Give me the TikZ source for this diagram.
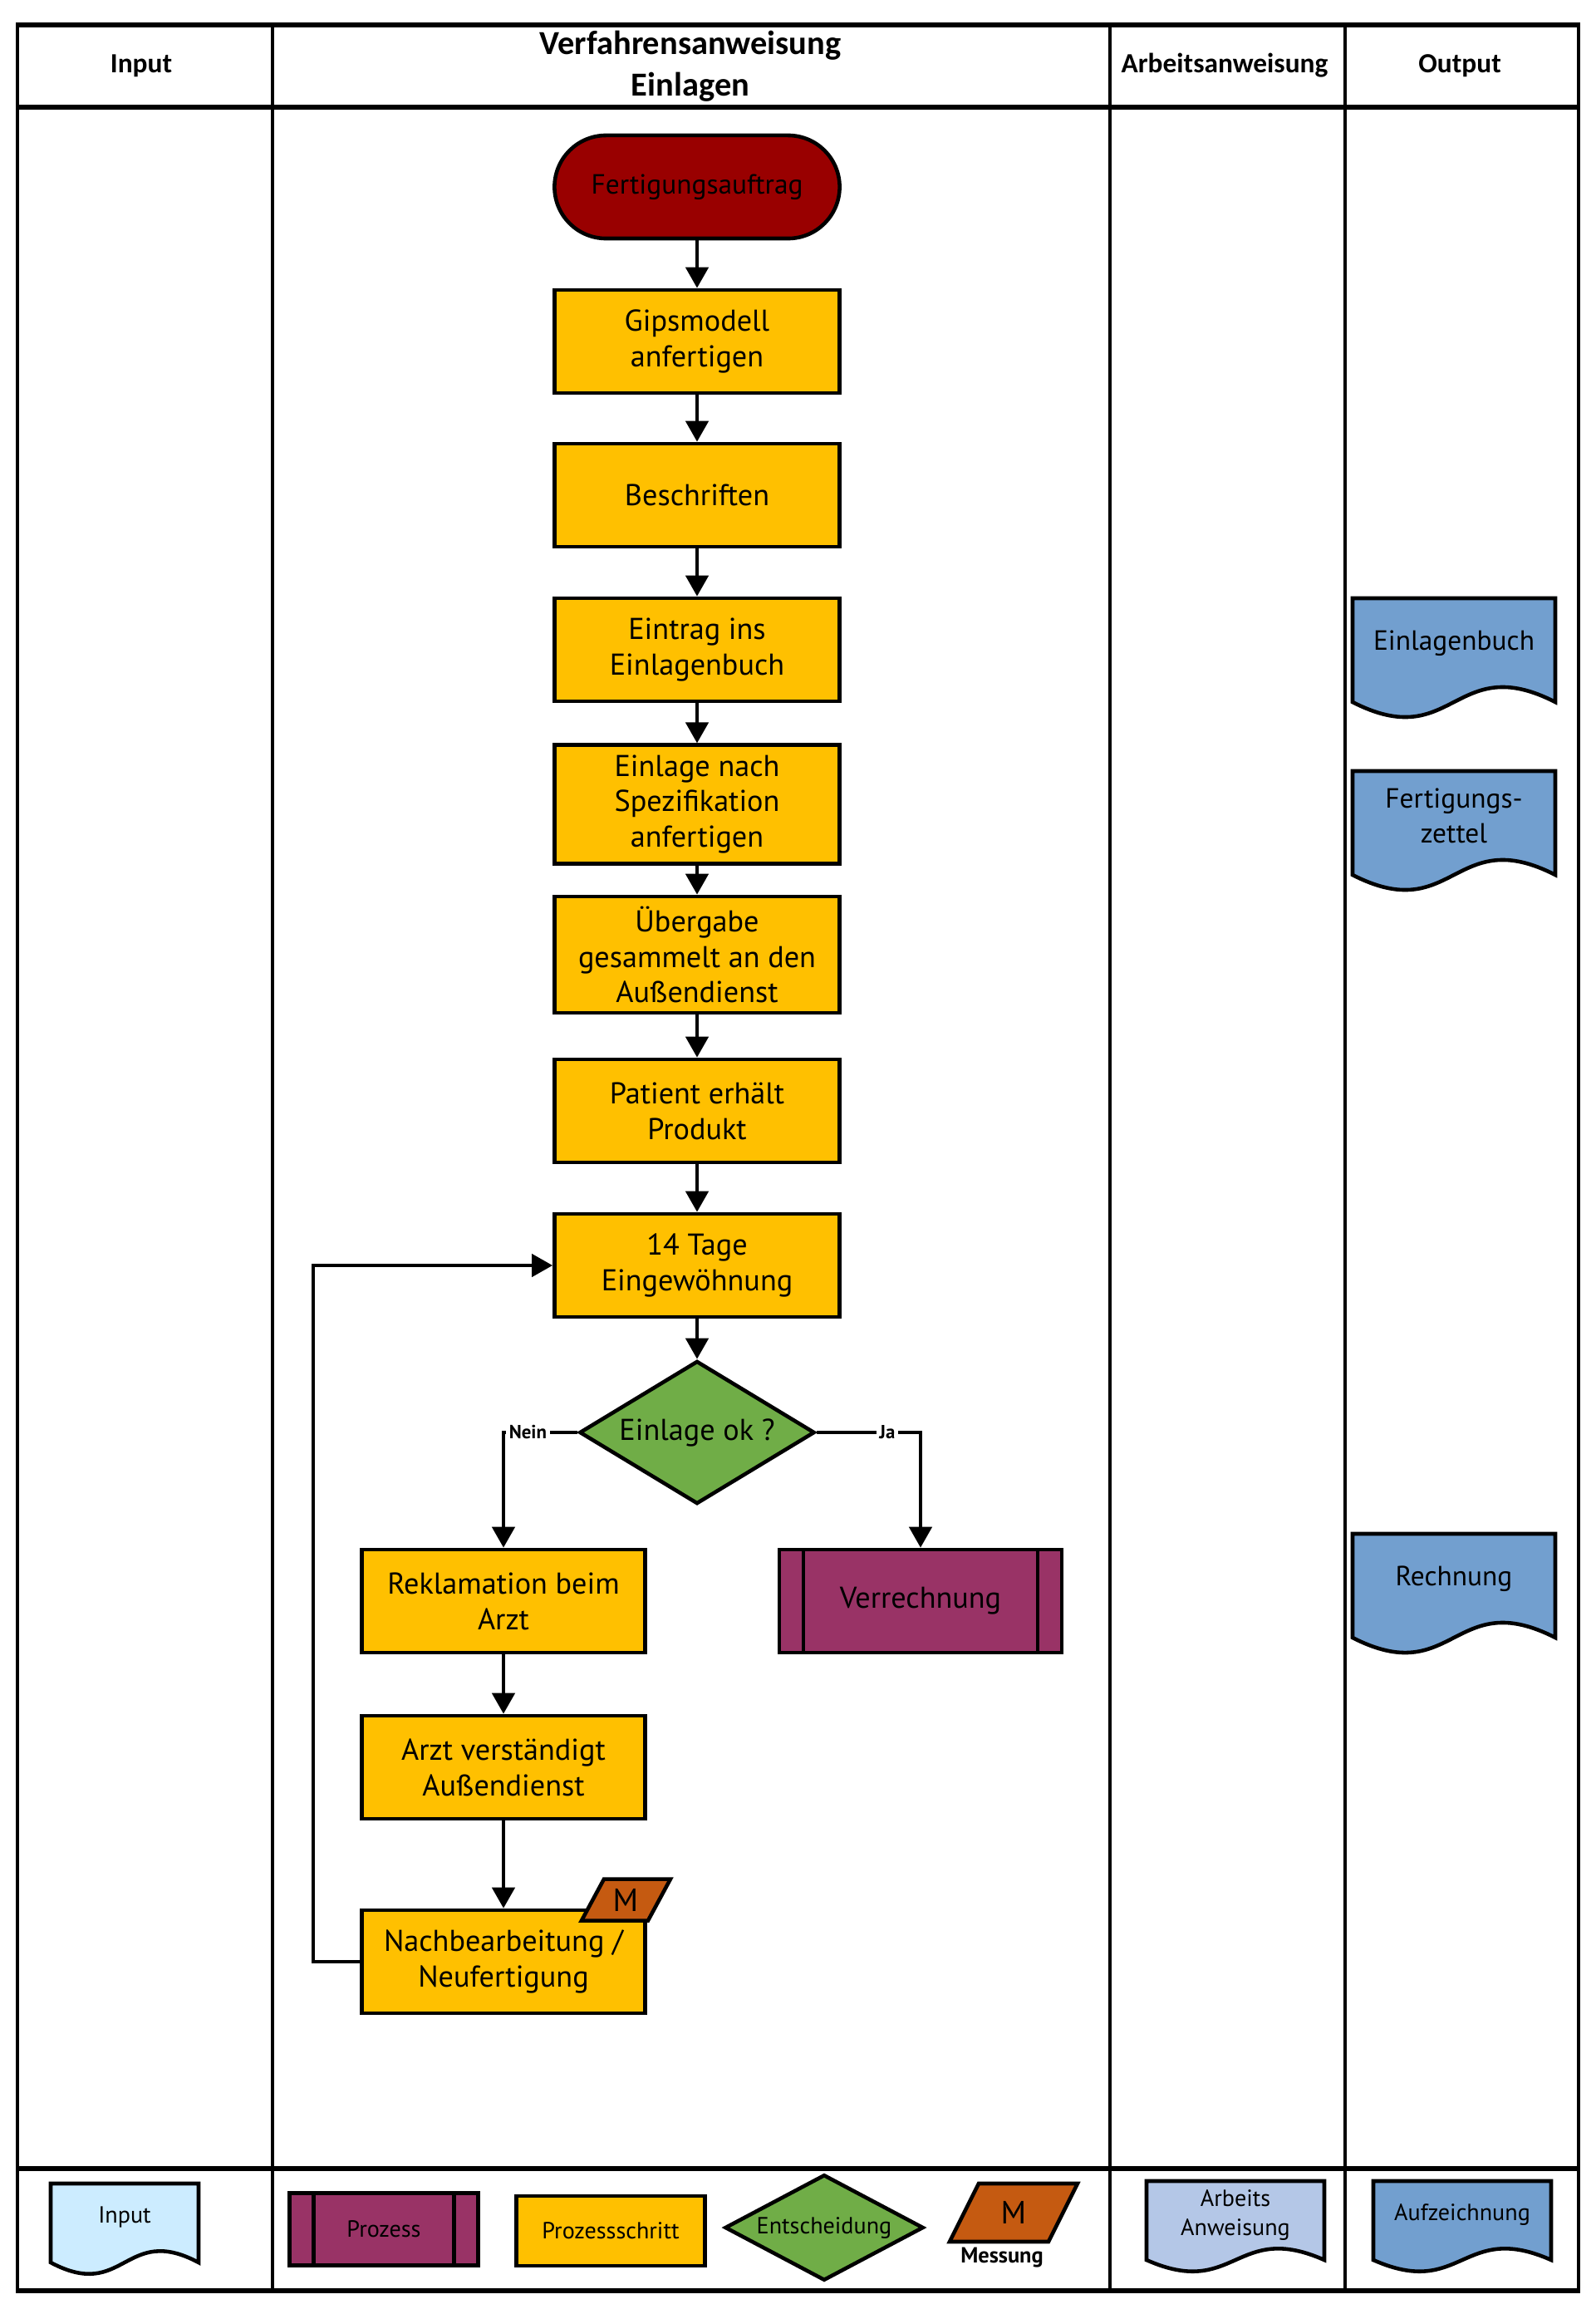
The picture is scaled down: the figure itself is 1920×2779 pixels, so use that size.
\documentclass[tikz,border=0pt]{standalone}
\usepackage{fontspec}
\setmainfont{PT Sans}
\newfontfamily\headfont{Carlito}
\usetikzlibrary{arrows.meta,shapes.geometric,positioning}

\definecolor{startrot}{RGB}{153,0,0}
\definecolor{schrittgelb}{RGB}{255,192,0}
\definecolor{entschgruen}{RGB}{112,173,71}
\definecolor{prozesslila}{RGB}{153,51,102}
\definecolor{messorange}{RGB}{197,90,17}
\definecolor{aufzblau}{RGB}{114,159,207}
\definecolor{anwblau}{RGB}{180,199,231}
\definecolor{inputblau}{RGB}{204,236,255}

\newcommand{\fsz}[2]{\fontsize{#1}{#2}\selectfont}
% Dokument: Name, x links, y oben, Breite, Hoehe, Farbe, Text, Schrift
\newcommand{\dokument}[8]{%
  \draw[doklinie, fill=#6] (#2,#3) -- ({#2+#4},#3) -- ({#2+#4},{#3+#5})
    .. controls ({#2+0.5*#4},{#3+0.5*#5}) and ({#2+0.5*#4},{#3+1.5*#5}) .. (#2,{#3+#5}) -- cycle;
  \node[doktext, font=#8] (#1) at ({#2+0.5*#4},{#3+0.43*#5}) {#7};}

\begin{document}
\begin{tikzpicture}[x=0.01cm, y=-0.01cm,
		quer/.style={line width=1.85pt},
		senk/.style={line width=1.4pt},
		kopf/.style={font=\headfont\bfseries\fsz{9.5}{12}, align=center},
		start/.style={rectangle, rounded corners=0.62cm, draw, line width=1.3pt, fill=startrot, minimum width=3.43cm, minimum height=1.24cm, font=\fsz{9.5}{12}},
		schritt/.style={rectangle, draw, line width=1.3pt, fill=schrittgelb, minimum width=3.43cm, minimum height=1.24cm, align=center, font=\fsz{10.3}{12.2}},
		entsch/.style={diamond, draw, line width=1.3pt, fill=entschgruen, minimum width=2.83cm, minimum height=1.72cm, inner sep=0pt, aspect=1.6, font=\fsz{10.3}{12.2}},
		prozess/.style={rectangle, draw, line width=1.3pt, fill=prozesslila, minimum width=3.4cm, minimum height=1.24cm, font=\fsz{10.3}{12.2},
			path picture={\draw[line width=1.3pt] ([xshift=0.29cm]path picture bounding box.north west) -- ([xshift=0.29cm]path picture bounding box.south west)
				([xshift=-0.29cm]path picture bounding box.north east) -- ([xshift=-0.29cm]path picture bounding box.south east);}},
		mrand/.style={draw, line width=1.3pt, fill=messorange},
		doklinie/.style={draw, line width=1.3pt},
		doktext/.style={align=center, inner sep=1pt},
		jn/.style={fill=white, inner sep=1pt, font=\bfseries\fsz{6.5}{8}},
		leg/.style={font=\fsz{8}{10}},
		pfeil/.style={-{Triangle[length=0.25cm,width=0.27cm]}, line width=1.3pt}
		]
		
		\useasboundingbox (0,0) rectangle (1920,2779);
		
		% Rahmen
		\foreach \y in {30,129,2610,2757}
			\draw[quer] (19,\y) -- (1902,\y);
		\foreach \x in {21,328,1336,1619,1900}
			\draw[senk] (\x,30) -- (\x,2757);
		
		\node[kopf] (hinput) at (170,79) {Input};
		\node[kopf, font=\headfont\bfseries\fsz{11.5}{14.2}] (hverf) at (831,80) {Verfahrensanweisung\\Einlagen};
		\node[kopf] (harbeit) at (1474,79) {Arbeitsanweisung};
		\node[kopf] (houtput) at (1757,79) {Output};
		
		% Ablauf
		\node[start] (auftrag) at (839,225) {Fertigungsauftrag};
		\node[schritt] (gips) at (839,411) {Gipsmodell\\anfertigen};
		\node[schritt] (beschr) at (839,596) {Beschriften};
		\node[schritt] (eintrag) at (839,782) {Eintrag ins\\Einlagenbuch};
		\node[schritt] (spez) at (839,968) {Einlage nach\\Spezifikation\\anfertigen};
		\node[schritt, minimum height=1.31cm] (uebergabe) at (839,1149) {Übergabe\\gesammelt an den\\Außendienst};
		\node[schritt] (patient) at (839,1337) {Patient erhält\\Produkt};
		\node[schritt] (eingew) at (839,1523) {14 Tage\\Eingewöhnung};
		\node[entsch] (frage) at (839,1724) {Einlage ok ?};
		\node[schritt, minimum width=3.41cm] (rekl) at (606,1927) {Reklamation beim\\Arzt};
		\node[prozess] (verr) at (1108,1927) {Verrechnung};
		\node[schritt, minimum width=3.41cm] (arzt) at (606,2127) {Arzt verständigt\\Außendienst};
		\node[schritt, minimum width=3.41cm] (nach) at (606,2361) {Nachbearbeitung /\\Neufertigung};
		
		\coordinate (mpos) at ([shift={(-26,-10)}]nach.north east);
		\draw[mrand] ([shift={(-53,25)}]mpos) -- ++(80,0) -- ++(27,-50) -- ++(-80,0) -- cycle;
		\node[font=\fsz{11}{12}] (mess) at (mpos) {M};
		
		\foreach \a/\b in {auftrag/gips, gips/beschr, beschr/eintrag, eintrag/spez, spez/uebergabe, uebergabe/patient, patient/eingew, eingew/frage, rekl/arzt, arzt/nach}
			\draw[pfeil] (\a) -- (\b);
		
		\draw[pfeil] (frage.west) -| node[jn, pos=0.335] {Nein} (rekl.north);
		\draw[pfeil] (frage.east) -| node[jn, pos=0.34] {Ja} (verr.north);
		\draw[pfeil] (nach.west) -- ++(-56,0) |- (eingew.west);
		
		% Output
		\dokument{buch}{1628}{720}{244}{125}{aufzblau}{Einlagenbuch}{\fsz{9.5}{12}}
		\dokument{zettel}{1628}{928}{244}{125}{aufzblau}{Fertigungs-\\zettel}{\fsz{9.5}{12}}
		\dokument{rechnung}{1628}{1846}{244}{125}{aufzblau}{Rechnung}{\fsz{9.5}{12}}
		
		% Legende
		\dokument{linput}{61}{2628}{178}{95}{inputblau}{Input}{\fsz{8}{10}}
		\node[prozess, leg, minimum width=2.27cm, minimum height=0.87cm] (lprozess) at (462,2683) {Prozess};
		\node[schritt, leg, minimum width=2.27cm, minimum height=0.84cm] (lschritt) at (735,2685) {Prozessschritt};
		\node[entsch, leg, minimum width=2.39cm, minimum height=1.14cm] (lentsch) at (992,2681) {Entscheidung};
		\coordinate (lmpos) at (1220,2663);
		\draw[mrand] ([shift={(-77,35)}]lmpos) -- ++(119,0) -- ++(35,-70) -- ++(-119,0) -- cycle;
		\node[font=\fsz{11}{12}] (lmess) at (lmpos) {M};
		\node[font=\bfseries\fsz{7.5}{9}] (lmesstext) at (1206,2717) {Messung};
		\dokument{lanw}{1380}{2625}{214}{95}{anwblau}{Arbeits\\Anweisung}{\fsz{8}{10}}
		\dokument{laufz}{1653}{2625}{214}{95}{aufzblau}{Aufzeichnung}{\fsz{8}{10}}
		
	\end{tikzpicture}
\end{document}
